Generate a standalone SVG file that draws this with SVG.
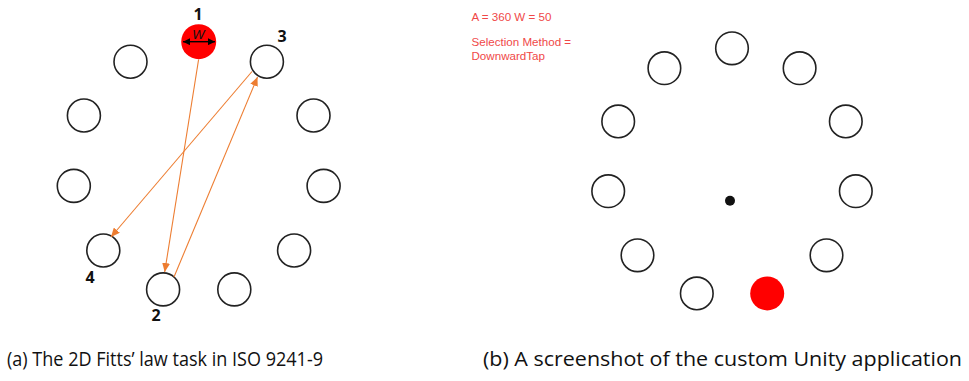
<svg xmlns="http://www.w3.org/2000/svg" width="969" height="381" viewBox="0 0 969 381">
<defs>
<style>
.t{fill:none;stroke:#222;stroke-width:1.6}
.c{stroke:#ED7D31;stroke-width:1.1;fill:none}
.num{font-family:"Open Sans","Liberation Sans",sans-serif;font-weight:bold;font-size:16px;fill:#111;text-anchor:middle}
.info{font-family:"Liberation Sans",Arial,sans-serif;font-size:11.6px;fill:#F04848}
.cap{font-family:"Open Sans","Liberation Sans",sans-serif;font-size:20px;fill:#111}
</style>
<marker id="ah" markerWidth="9" markerHeight="8" refX="9" refY="4" orient="auto" markerUnits="userSpaceOnUse">
<path d="M0,0 L9,4 L0,8 Z" fill="#ED7D31"/>
</marker>
<marker id="bk" markerWidth="7" markerHeight="7" refX="7" refY="3.5" orient="auto-start-reverse" markerUnits="userSpaceOnUse">
<path d="M0,0 L7,3.5 L0,7 Z" fill="#000"/>
</marker>
</defs>
<rect width="969" height="381" fill="#fff"/>

<!-- Left panel: ISO 9241-9 task -->
<g id="target-1">
<circle cx="198.7" cy="41.7" r="17.5" fill="#FF0000"/>
<line x1="183" y1="41.7" x2="215" y2="41.7" stroke="#000" stroke-width="1.4" marker-start="url(#bk)" marker-end="url(#bk)"/>
<text x="198.5" y="39" font-family="Liberation Sans,Arial,sans-serif" font-style="italic" font-size="13" text-anchor="middle" fill="#111">W</text>
<text class="num" x="198" y="20">1</text>
</g>
<g id="target-3">
<circle class="t" cx="266.9" cy="61.7" r="16.5"/>
<text class="num" x="282" y="42">3</text>
</g>
<g id="target-l2"><circle class="t" cx="313.5" cy="115.5" r="16.5"/></g>
<g id="target-l3"><circle class="t" cx="323.6" cy="185.9" r="16.5"/></g>
<g id="target-l4"><circle class="t" cx="294.1" cy="250.5" r="16.5"/></g>
<g id="target-l5"><circle class="t" cx="234.3" cy="289.4" r="16.5"/></g>
<g id="target-2">
<circle class="t" cx="163.1" cy="289.4" r="16.5"/>
<text class="num" x="156" y="321">2</text>
</g>
<g id="target-4">
<circle class="t" cx="103.3" cy="250.5" r="16.5"/>
<text class="num" x="90" y="283">4</text>
</g>
<g id="target-l8"><circle class="t" cx="73.8" cy="185.9" r="16.5"/></g>
<g id="target-l9"><circle class="t" cx="83.9" cy="115.5" r="16.5"/></g>
<g id="target-l10"><circle class="t" cx="130.5" cy="61.7" r="16.5"/></g>

<g id="connectors">
<line class="c" x1="198.6" y1="59.5" x2="164.7" y2="272" marker-end="url(#ah)"/>
<line class="c" x1="174" y1="277" x2="257.5" y2="77" marker-end="url(#ah)"/>
<line class="c" x1="252" y1="71.5" x2="111" y2="237" marker-end="url(#ah)"/>
</g>

<!-- Right panel: Unity application -->
<g id="info">
<text class="info" x="471.5" y="21">A = 360 W = 50</text>
<text class="info" x="471.5" y="46">Selection Method =</text>
<text class="info" x="471.5" y="59.5">DownwardTap</text>
</g>
<g id="u0"><circle class="t" cx="732" cy="48.3" r="16.3"/></g>
<g id="u1"><circle class="t" cx="799.6" cy="68.2" r="16.3"/></g>
<g id="u2"><circle class="t" cx="845.8" cy="121.4" r="16.3"/></g>
<g id="u3"><circle class="t" cx="855.8" cy="191.2" r="16.3"/></g>
<g id="u4"><circle class="t" cx="826.5" cy="255.3" r="16.3"/></g>
<g id="u5"><circle cx="767.2" cy="293.4" r="17" fill="#FF0000"/></g>
<g id="u6"><circle class="t" cx="696.8" cy="293.4" r="16.3"/></g>
<g id="u7"><circle class="t" cx="637.5" cy="255.3" r="16.3"/></g>
<g id="u8"><circle class="t" cx="608.2" cy="191.2" r="16.3"/></g>
<g id="u9"><circle class="t" cx="618.2" cy="121.4" r="16.3"/></g>
<g id="u10"><circle class="t" cx="664.4" cy="68.2" r="16.3"/></g>
<g id="cursor"><circle cx="730" cy="200.7" r="5" fill="#111"/></g>

<!-- Captions -->
<text class="cap" x="7" y="366" textLength="316" lengthAdjust="spacingAndGlyphs">(a) The 2D Fitts’ law task in ISO 9241-9</text>
<text class="cap" x="483" y="366" textLength="479" lengthAdjust="spacingAndGlyphs">(b) A screenshot of the custom Unity application</text>
</svg>
